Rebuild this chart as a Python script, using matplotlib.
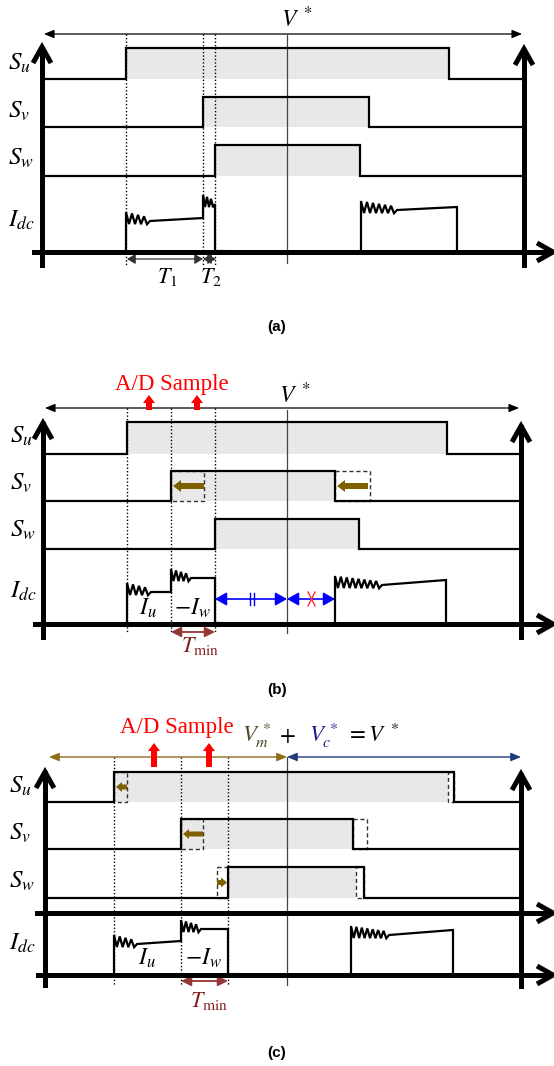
import matplotlib
matplotlib.use("Agg")
import matplotlib.pyplot as plt
from matplotlib.patches import FancyArrow, Rectangle
import numpy as np

plt.rcParams['mathtext.fontset'] = 'stix'
plt.rcParams['font.family'] = ['Liberation Serif', 'DejaVu Serif']

# ---------------- data (time / level values, px units of the drawing) ----------------
# panel (a): PWM edges of S_u, S_v, S_w
rise_a = [126, 203, 215]
fall_a = [449, 369, 360]
# panel (b)
rise_b = [127, 171, 215]
fall_b = [447, 335, 359]
orig_rise_b = [127, 204, 215]
orig_fall_b = [447, 370, 359]
shade_end_b = [447, 335, 359]
# panel (c)
rise_c = [114, 181, 228]
fall_c = [454, 353, 364]
orig_rise_c = [127, 203, 217]
orig_fall_c = [448, 367, 356]
shade_end_c = [448, 353, 356]

# dc-link current segments: start, end, level at start, level at end (height above baseline)
idc_a_start = [126, 203, 361]
idc_a_end = [203, 215, 457]
idc_a_lv0 = [31, 48, 42]
idc_a_lv1 = [34, 48, 45]
idc_a_ring = [24, 12, 36]
idc_a_teeth = [4, 3, 6]

idc_b_start = [127, 171, 335]
idc_b_end = [171, 215, 446]
idc_b_lv0 = [32, 46, 39]
idc_b_lv1 = [32, 46, 44]
idc_b_ring = [24, 20, 47]
idc_b_teeth = [4, 4, 8]

idc_c_start = [114, 181, 351]
idc_c_end = [181, 228, 453]
idc_c_lv0 = [31, 46, 40]
idc_c_lv1 = [34, 46, 45]
idc_c_ring = [23, 20, 38]
idc_c_teeth = [4, 4, 7]

# sampling instants (A/D)
sample_b = [149, 197]
sample_c = [154, 209]

phase_labels = [r'$S_u$', r'$S_v$', r'$S_w$']

# ---------------- figure ----------------
W, H = 554, 1066
fig = plt.figure(figsize=(W / 100, H / 100), dpi=100)
ax = fig.add_axes([0, 0, 1, 1])
ax.set_xlim(0, W)
ax.set_ylim(H, 0)
ax.set_aspect('auto')
ax.axis('off')

GRAY = '#e8e8e8'
THICK = 3.6
SIG = 1.6
BROWN = '#7f6000'
TMIN = '#953735'


def chevron_up(x, ytip, dx=9, dy=16):
    ax.plot([x - dx, x, x + dx], [ytip + dy, ytip, ytip + dy], color='k', lw=THICK,
            solid_joinstyle='miter', solid_capstyle='butt', zorder=6)


def chevron_right(xtip, y, dx=16, dy=9):
    ax.plot([xtip - dx, xtip, xtip - dx], [y - dy, y, y + dy], color='k', lw=THICK,
            solid_joinstyle='miter', solid_capstyle='butt', zorder=6)


def thin_arrow(x0, x1, y, color, style='<|-|>', lw=0.9, hl=0.6, hw=0.25, ms=10, z=5):
    ax.annotate('', xy=(x1, y), xytext=(x0, y),
                arrowprops=dict(arrowstyle=f'{style},head_length={hl},head_width={hw}',
                                color=color, lw=lw, mutation_scale=ms,
                                shrinkA=0, shrinkB=0), zorder=z)


def switch_row(xl, xr, low, high, r, f, s0, s1):
    ax.fill_between([s0, s1], [high, high], [low, low], color=GRAY, lw=0, zorder=1)
    ax.plot([xl, r, r, f, f, xr], [low, low, high, high, low, low], color='k',
            lw=SIG, solid_joinstyle='miter', zorder=4)


def idc_trace(base, starts, ends, lv0, lv1, rings, teeth, amp=6.0):
    xs, ys = [], []
    n = len(starts)
    for i in range(n):
        x0, x1 = starts[i], ends[i]
        if i == 0 or starts[i] != ends[i - 1]:
            xs.append(x0); ys.append(base)
        L = rings[i]
        m = 2 * teeth[i]
        c0 = lv0[i] + amp * 0.5
        for k in range(m + 1):
            t = k / m
            c = c0 + (lv0[i] - c0) * t
            a = amp * (1 - 0.45 * t)
            sgn = 1 if k % 2 == 0 else -1
            h = c + sgn * a if k < m else lv0[i]
            xs.append(x0 + L * t); ys.append(base - h)
        xs.append(x1); ys.append(base - lv1[i])
        if i == n - 1 or starts[i + 1] != x1:
            xs.append(x1); ys.append(base - 1)
    ax.plot(xs, ys, color='k', lw=SIG, solid_joinstyle='miter', zorder=4)


def dashed_box(x0, x1, y0, y1):
    if abs(x1 - x0) < 1:
        return
    ax.add_patch(Rectangle((min(x0, x1), y0), abs(x1 - x0), y1 - y0, fill=False,
                           ls=(0, (3, 2)), lw=1.0, edgecolor='#333333', zorder=3))


def block_arrow(x0, x1, y, color, w=6, hw=12, hl=8):
    ax.add_patch(FancyArrow(x0, y, x1 - x0, 0, width=w, head_width=hw, head_length=hl,
                            length_includes_head=True, color=color, lw=0, zorder=5))


def up_arrow(x, ybot, ytip, color='#ff0000', w=6, hw=12, hl=8):
    ax.add_patch(FancyArrow(x, ybot, 0, ytip - ybot, width=w, head_width=hw, head_length=hl,
                            length_includes_head=True, color=color, lw=0, zorder=5))


def labels(xlab, baselines, idc_base):
    for lab, yb in zip(phase_labels, baselines):
        ax.text(xlab, yb, lab, fontsize=18, ha='left', va='baseline')
    ax.text(xlab, idc_base, r'$I_{dc}$', fontsize=18, ha='left', va='baseline')


# ================= panel (a) =================
low_a = [79, 127, 176]
high_a = [48, 97, 145]
for i in range(3):
    switch_row(45, 524, low_a[i], high_a[i], rise_a[i], fall_a[i], rise_a[i], fall_a[i])
idc_trace(252, idc_a_start, idc_a_end, idc_a_lv0, idc_a_lv1, idc_a_ring, idc_a_teeth)
for x in rise_a:
    ax.plot([x, x], [34, 265], color='k', lw=1.0, ls=(0, (1, 1.5)), zorder=2)
ax.plot([287, 287], [35, 263], color='#444444', lw=0.9, zorder=2)
ax.plot([42, 42], [50, 265], color='k', lw=THICK, zorder=6)
ax.plot([524, 524], [52, 265], color='k', lw=THICK, zorder=6)
ax.plot([34, 550], [252, 252], color='k', lw=THICK, zorder=6)
chevron_up(42, 47); chevron_up(524, 49); chevron_right(553, 252)
thin_arrow(44, 522, 34, 'k')
ax.text(281, 27, r'$V^{\;*}$', fontsize=17, ha='left', va='baseline')
thin_arrow(127, 203, 259, '#333333', hl=0.5, hw=0.3, ms=10)
thin_arrow(203, 216, 259, '#333333', hl=0.5, hw=0.3, ms=10)
ax.text(157, 283, r'$T_1$', fontsize=16, ha='left', va='baseline')
ax.text(200, 283, r'$T_2$', fontsize=16, ha='left', va='baseline')
labels(8, [70, 118, 165], 227)
ax.text(277, 327, '(a)', fontsize=11, ha='center', va='center',
        family='Liberation Sans', weight='bold')

# ================= panel (b) =================
low_b = [454, 501, 549]
high_b = [422, 471, 519]
for i in range(3):
    dashed_box(rise_b[i], orig_rise_b[i], high_b[i], low_b[i])
    dashed_box(fall_b[i], orig_fall_b[i], high_b[i], low_b[i])
    switch_row(45, 521, low_b[i], high_b[i], rise_b[i], fall_b[i], rise_b[i], shade_end_b[i])
block_arrow(orig_rise_b[1], rise_b[1] + 2, (low_b[1] + high_b[1]) / 2, BROWN)
block_arrow(orig_fall_b[1] - 2, fall_b[1] + 2, (low_b[1] + high_b[1]) / 2, BROWN)
idc_trace(624, idc_b_start, idc_b_end, idc_b_lv0, idc_b_lv1, idc_b_ring, idc_b_teeth)
for x in rise_b:
    ax.plot([x, x], [408, 632], color='k', lw=1.0, ls=(0, (1, 1.5)), zorder=2)
ax.plot([287, 287], [410, 633], color='#444444', lw=0.9, zorder=2)
ax.plot([43, 43], [424, 637], color='k', lw=THICK, zorder=6)
ax.plot([521, 521], [427, 637], color='k', lw=THICK, zorder=6)
ax.plot([35, 550], [624, 624], color='k', lw=THICK, zorder=6)
chevron_up(43, 423); chevron_up(521, 426); chevron_right(553, 624)
thin_arrow(45, 519, 408, 'k')
ax.text(279, 403, r'$V^{\;*}$', fontsize=17, ha='left', va='baseline')
ax.text(172, 390, 'A/D Sample', fontsize=16.5, color='#ff0000', ha='center', va='baseline')
for x in sample_b:
    up_arrow(x, 410, 395)
thin_arrow(rise_b[2], 287, 599, '#0000ff', lw=1.2, hl=0.7, hw=0.4, ms=10)
thin_arrow(287, fall_b[1], 599, '#0000ff', lw=1.2, hl=0.7, hw=0.4, ms=10)
ax.plot([250, 250], [593, 605], color='#0000ff', lw=1.0, zorder=6)
ax.plot([254, 254], [593, 605], color='#0000ff', lw=1.0, zorder=6)
ax.plot([308, 315], [592, 606], color='#ff3030', lw=1.0, zorder=6)
ax.plot([315, 308], [592, 606], color='#ff3030', lw=1.0, zorder=6)
ax.text(139, 615, r'$I_u$', fontsize=17, ha='left', va='baseline')
ax.text(174, 615, r'$-I_w$', fontsize=17, ha='left', va='baseline')
thin_arrow(rise_b[1], rise_b[2], 632, TMIN, lw=1.3, hl=0.6, hw=0.3, ms=10)
ax.text(181, 652, r'$T_{\min}$', fontsize=16, color='#7f1f1f', ha='left', va='baseline')
labels(10, [443, 490, 537], 598)
ax.text(277, 690, '(b)', fontsize=11, ha='center', va='center',
        family='Liberation Sans', weight='bold')

# ================= panel (c) =================
low_c = [802, 849, 898]
high_c = [772, 819, 867]
for i in range(3):
    dashed_box(rise_c[i], orig_rise_c[i], high_c[i], low_c[i])
    dashed_box(fall_c[i], orig_fall_c[i], high_c[i], low_c[i])
    switch_row(47, 521, low_c[i], high_c[i], rise_c[i], fall_c[i], rise_c[i], shade_end_c[i])
for i in range(3):
    yc = (low_c[i] + high_c[i]) / 2
    d = rise_c[i] - orig_rise_c[i]
    x0 = orig_rise_c[i]
    x1 = rise_c[i] + (2 if d < 0 else -1)
    block_arrow(x0, x1, yc, BROWN, w=5, hw=10, hl=6)
idc_trace(975, idc_c_start, idc_c_end, idc_c_lv0, idc_c_lv1, idc_c_ring, idc_c_teeth)
for x in rise_c:
    ax.plot([x, x], [757, 985], color='k', lw=1.0, ls=(0, (1, 1.5)), zorder=2)
ax.plot([287, 287], [757, 985], color='#444444', lw=0.9, zorder=2)
ax.plot([45, 45], [773, 985], color='k', lw=THICK, zorder=6)
ax.plot([521, 521], [775, 986], color='k', lw=THICK, zorder=6)
ax.plot([37, 550], [913, 913], color='k', lw=THICK, zorder=6)
ax.plot([38, 550], [975, 975], color='k', lw=THICK, zorder=6)
chevron_up(45, 772); chevron_up(521, 774)
chevron_right(553, 913); chevron_right(553, 975)
thin_arrow(49, 287, 757, '#8b6d1a', lw=1.0)
thin_arrow(287, 521, 757, '#1f3a7a', lw=1.0)
ax.text(177, 733, 'A/D Sample', fontsize=16.5, color='#ff0000', ha='center', va='baseline')
for x in sample_c:
    up_arrow(x, 767, 743)
ax.text(242, 742, r'$V_m^{\,*}$', fontsize=16.5, color='#4d4526', ha='left', va='baseline')
ax.text(287, 742, r'$+$', fontsize=16.5, color='k', ha='center', va='baseline')
ax.text(309, 742, r'$V_c^{\,*}$', fontsize=16.5, color='#1a1a8c', ha='left', va='baseline')
ax.text(346, 742, r'$=V^{\;*}$', fontsize=16.5, color='k', ha='left', va='baseline')
ax.text(138, 965, r'$I_u$', fontsize=17, ha='left', va='baseline')
ax.text(185, 965, r'$-I_w$', fontsize=17, ha='left', va='baseline')
thin_arrow(rise_c[1], rise_c[2], 981, TMIN, lw=1.3, hl=0.6, hw=0.3, ms=10)
ax.text(190, 1007, r'$T_{\min}$', fontsize=16, color='#7f1f1f', ha='left', va='baseline')
labels(9, [793, 840, 888], 950)
ax.text(277, 1053, '(c)', fontsize=11, ha='center', va='center',
        family='Liberation Sans', weight='bold')

fig.savefig('out.png', dpi=100)
